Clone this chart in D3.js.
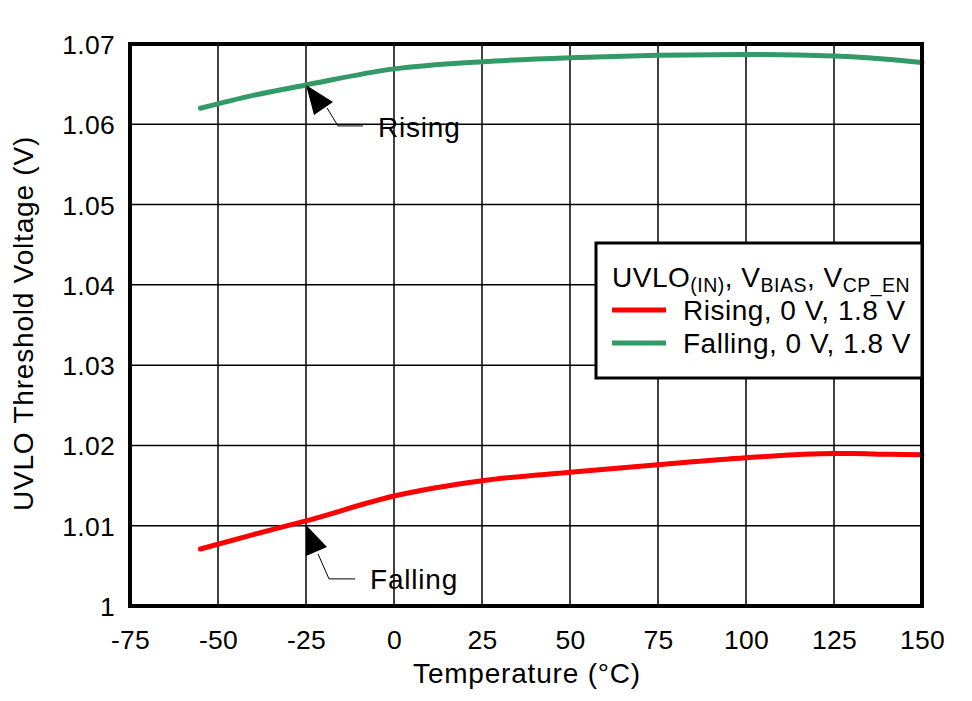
<!DOCTYPE html>
<html><head><meta charset="utf-8">
<script src="https://cdn.jsdelivr.net/npm/d3@7"></script>
<style>body{margin:0;background:#fff}svg{display:block;font-family:"Liberation Sans",Arial,sans-serif}</style>
</head><body>
<svg id="c" width="972" height="701"></svg>
<script>
const temps = [-55, -40, -25, 0, 25, 50, 75, 100, 125, 130, 140, 150];
const risingRed = [1.0071, 1.0089, 1.0106, 1.0137, 1.0156, 1.01665, 1.0176, 1.01847, 1.0190, 1.0190, 1.0189, 1.01884];
const fallingGreen = [1.0620, 1.0636, 1.0649, 1.0669, 1.0678, 1.0683, 1.0686, 1.0687, 1.0685, 1.0684, 1.0681, 1.0677];
const xTicks = [-75, -50, -25, 0, 25, 50, 75, 100, 125, 150];
const yTicks = [1, 1.01, 1.02, 1.03, 1.04, 1.05, 1.06, 1.07];
const yTickLabels = ["1", "1.01", "1.02", "1.03", "1.04", "1.05", "1.06", "1.07"];

const svg = d3.select("#c");
const L = 130, R = 922, T = 44, B = 606;
const x = d3.scaleLinear().domain([-75, 150]).range([L, R]);
const y = d3.scaleLinear().domain([1, 1.07]).range([B, T]);
const FS = 28, LS = "0.8px";

// grid
svg.append("g").selectAll("line").data(xTicks).join("line")
  .attr("x1", d => x(d)).attr("x2", d => x(d)).attr("y1", T).attr("y2", B)
  .attr("stroke", "#000").attr("stroke-width", 1.5);
svg.append("g").selectAll("line").data(yTicks).join("line")
  .attr("y1", d => y(d)).attr("y2", d => y(d)).attr("x1", L).attr("x2", R)
  .attr("stroke", "#000").attr("stroke-width", 1.5);

// axes labels
const xa = svg.append("g").attr("transform", `translate(0,${B})`)
  .call(d3.axisBottom(x).tickValues(xTicks).tickSize(0).tickFormat(d => d));
xa.select(".domain").remove();
xa.selectAll("text").attr("y", 43).attr("dy", 0).attr("font-size", 26.5).attr("letter-spacing", "0.3px")
  .attr("fill", "#000").attr("font-family", "Liberation Sans, Arial, sans-serif");
const ya = svg.append("g").attr("transform", `translate(${L},0)`)
  .call(d3.axisLeft(y).tickValues(yTicks).tickSize(0).tickFormat((d, i) => yTickLabels[i]));
ya.select(".domain").remove();
ya.selectAll("text").attr("x", -15).attr("dy", "0.36em").attr("font-size", 26.5).attr("letter-spacing", "0.3px")
  .attr("fill", "#000").attr("font-family", "Liberation Sans, Arial, sans-serif");

// lines
const line = d3.line().x((d, i) => x(temps[i])).y(d => y(d)).curve(d3.curveMonotoneX);
svg.append("path").datum(fallingGreen).attr("d", line).attr("fill", "none")
  .attr("stroke", "#339966").attr("stroke-width", 5).attr("stroke-linecap", "round");
svg.append("path").datum(risingRed).attr("d", line).attr("fill", "none")
  .attr("stroke", "#ff0000").attr("stroke-width", 5).attr("stroke-linecap", "round");

// frame
svg.append("rect").attr("x", L).attr("y", T).attr("width", R - L).attr("height", B - T)
  .attr("fill", "none").attr("stroke", "#000").attr("stroke-width", 4);

// axis titles
svg.append("text").attr("x", (L + R) / 2 + 1).attr("y", 683).attr("text-anchor", "middle")
  .attr("font-size", FS).attr("letter-spacing", LS).text("Temperature (°C)");
svg.append("text").attr("transform", `translate(33,${(140 + 507) / 2}) rotate(-90)`).attr("text-anchor", "middle")
  .attr("font-size", FS).attr("letter-spacing", LS).text("UVLO Threshold Voltage (V)");

// annotations
function annot(tx, ty, pts, lead, label, lx, ly) {
  svg.append("path").attr("d", "M" + [[tx, ty], ...pts].map(p => p.join(",")).join("L") + "Z").attr("fill", "#000");
  svg.append("path").attr("d", "M" + lead.map(p => p.join(",")).join("L")).attr("fill", "none").attr("stroke", "#000").attr("stroke-width", 1);
  svg.append("text").attr("x", lx).attr("y", ly).attr("font-size", FS).attr("letter-spacing", LS).text(label);
}
const gx = x(-25), gy = y(fallingGreen[2]);
annot(gx, gy, [[gx + 8, gy + 30], [gx + 27, gy + 17]],
  [[gx + 21, gy + 23], [gx + 32, gy + 41], [gx + 57, gy + 41]], "Rising", gx + 72, gy + 52);
const rx = x(-25), ry = y(risingRed[2]) + 4;
annot(rx, ry, [[rx, ry + 31], [rx + 21, ry + 22]],
  [[rx + 12, ry + 29], [rx + 23, ry + 54], [rx + 49, ry + 54]], "Falling", rx + 64, ry + 64);

// legend
const lg = svg.append("g");
lg.append("rect").attr("x", 596).attr("y", 243).attr("width", 326).attr("height", 135)
  .attr("fill", "#fff").attr("stroke", "#000").attr("stroke-width", 3);
const tt = lg.append("text").attr("x", 612).attr("y", 287).attr("font-size", FS).attr("letter-spacing", "0.5px");
tt.append("tspan").text("UVLO");
tt.append("tspan").attr("font-size", 19.5).attr("dy", 5).text("(IN)");
tt.append("tspan").attr("dy", -5).text(", V");
tt.append("tspan").attr("font-size", 19.5).attr("dy", 5).text("BIAS");
tt.append("tspan").attr("dy", -5).text(", V");
tt.append("tspan").attr("font-size", 19.5).attr("dy", 5).text("CP_EN");
const items = [["Rising, 0 V, 1.8 V", "#ff0000"], ["Falling, 0 V, 1.8 V", "#339966"]];
items.forEach((it, i) => {
  const yy = 310 + i * 33;
  lg.append("line").attr("x1", 612).attr("x2", 666).attr("y1", yy).attr("y2", yy)
    .attr("stroke", it[1]).attr("stroke-width", 5);
  lg.append("text").attr("x", 683).attr("y", yy + 10).attr("font-size", FS).attr("letter-spacing", "0.5px").text(it[0]);
});
</script>
</body></html>
